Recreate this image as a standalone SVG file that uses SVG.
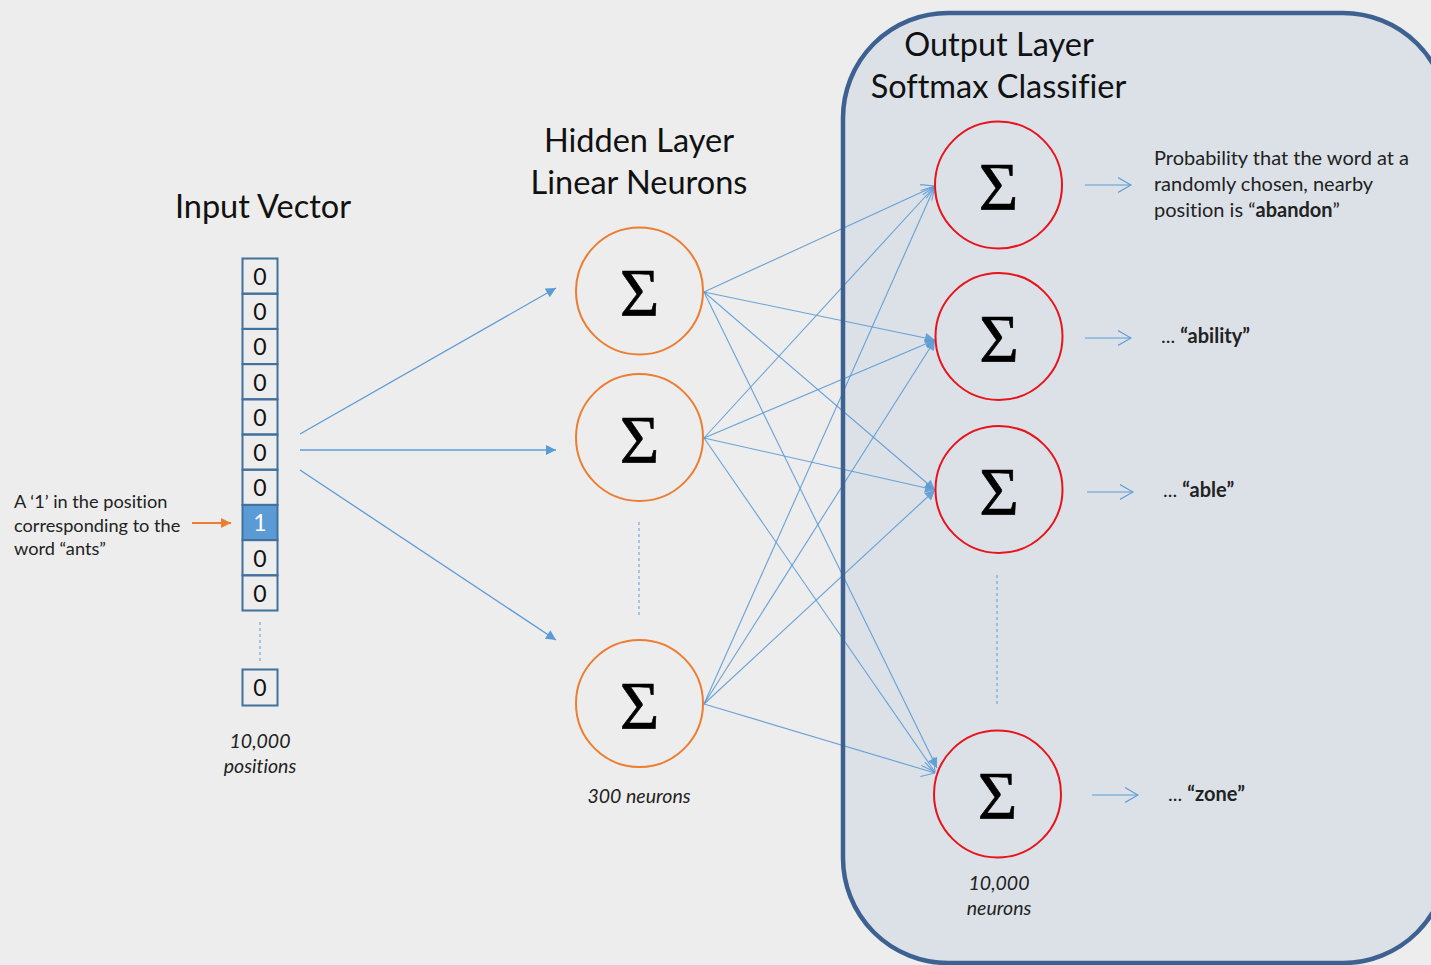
<svg xmlns="http://www.w3.org/2000/svg" width="1431" height="965" viewBox="0 0 1431 965">
  <style>
    text { font-variant-ligatures: none; }
    .heading { font-family: Lato, "Open Sans", sans-serif; font-size: 32.5px; fill: #111; text-anchor: middle; }
    .note { font-family: Lato, "Open Sans", sans-serif; font-size: 18.2px; fill: #222; }
    .label { font-family: Lato, "Open Sans", sans-serif; font-size: 20px; fill: #222; }
    .count { font-family: Lato, "Open Sans", sans-serif; font-size: 19.5px; font-style: italic; fill: #222; text-anchor: middle; }
    .cell { fill: none; stroke: #41719C; stroke-width: 2; }
    .cell-on { fill: #5B9BD5; stroke: #41719C; stroke-width: 2; }
    .digit { font-family: Lato, "Open Sans", sans-serif; font-size: 23px; fill: #111; text-anchor: middle; }
    .digit-on { fill: #fff; }
    .hidden { fill: none; stroke: #ED7D31; stroke-width: 2; }
    .output { fill: none; stroke: #E8131B; stroke-width: 2; }
    .sigma { font-family: "Liberation Serif", "DejaVu Serif", serif; font-size: 68px; fill: #000; text-anchor: middle; stroke: #000; stroke-width: 0.6; }
    .link { stroke: #5B9BD5; stroke-width: 1.1; fill: none; opacity: 0.9; }
    .feed { stroke: #5B9BD5; stroke-width: 1.3; fill: none; }
    .out-arrow { stroke: #5B9BD5; stroke-width: 1.1; fill: none; }
    .ellipsis { stroke: #5B9BD5; stroke-width: 1; stroke-dasharray: 3 3; fill: none; }
  </style>
  <defs>
    <marker id="tipFilled" viewBox="0 0 10 10" refX="10" refY="5" markerWidth="11" markerHeight="10" markerUnits="userSpaceOnUse" orient="auto">
      <path d="M0,0 L10,5 L0,10 z" fill="#5B9BD5"/>
    </marker>
    <marker id="tipOpen" viewBox="0 0 14 16" refX="13.5" refY="8" markerWidth="14" markerHeight="16" markerUnits="userSpaceOnUse" orient="auto">
      <path d="M0.5,0.5 L13.5,8 L0.5,15.5" fill="none" stroke="#5B9BD5" stroke-width="1.1"/>
    </marker>
    <marker id="tipOrange" viewBox="0 0 10 10" refX="10" refY="5" markerWidth="11" markerHeight="10" markerUnits="userSpaceOnUse" orient="auto">
      <path d="M0,0 L10,5 L0,10 z" fill="#ED7D31"/>
    </marker>
  </defs>

  <!-- page background -->
  <rect x="0" y="0" width="1431" height="965" fill="#EDEDED"/>

  <!-- output layer panel fill (border is drawn above the connectors) -->
  <g id="output-panel">
    <rect x="843" y="13" width="605" height="950" rx="105" ry="105" fill="#DCE1E8"/>
  </g>

  <!-- connectors -->
  <g id="connectors">
    <!-- input vector to hidden layer -->
    <line class="feed" x1="300" y1="434" x2="556" y2="288" marker-end="url(#tipFilled)"/>
    <line class="feed" x1="300" y1="450" x2="556" y2="450" marker-end="url(#tipFilled)"/>
    <line class="feed" x1="300" y1="470" x2="556" y2="640" marker-end="url(#tipFilled)"/>

    <!-- hidden neuron 1 -->
    <line class="link" x1="704" y1="292" x2="935" y2="186" marker-end="url(#tipOpen)"/>
    <line class="link" x1="704" y1="292" x2="935" y2="340" marker-end="url(#tipFilled)"/>
    <line class="link" x1="704" y1="292" x2="935" y2="490" marker-end="url(#tipFilled)"/>
    <line class="link" x1="704" y1="292" x2="937" y2="768" marker-end="url(#tipFilled)" stroke-width="1.5"/>
    <!-- hidden neuron 2 -->
    <line class="link" x1="704" y1="438" x2="935" y2="186" marker-end="url(#tipOpen)"/>
    <line class="link" x1="704" y1="438" x2="935" y2="340" marker-end="url(#tipFilled)"/>
    <line class="link" x1="704" y1="438" x2="935" y2="490" marker-end="url(#tipFilled)"/>
    <line class="link" x1="704" y1="438" x2="935" y2="772" marker-end="url(#tipOpen)"/>
    <!-- hidden neuron 3 -->
    <line class="link" x1="704" y1="704" x2="935" y2="186" marker-end="url(#tipOpen)"/>
    <line class="link" x1="704" y1="704" x2="935" y2="340" marker-end="url(#tipFilled)"/>
    <line class="link" x1="704" y1="704" x2="935" y2="490" marker-end="url(#tipFilled)"/>
    <line class="link" x1="704" y1="704" x2="935" y2="773" marker-end="url(#tipOpen)"/>

    <!-- softmax outputs -->
    <line class="out-arrow" x1="1085" y1="185" x2="1131" y2="185" marker-end="url(#tipOpen)"/>
    <line class="out-arrow" x1="1085" y1="338" x2="1131" y2="338" marker-end="url(#tipOpen)"/>
    <line class="out-arrow" x1="1087" y1="492" x2="1133" y2="492" marker-end="url(#tipOpen)"/>
    <line class="out-arrow" x1="1092" y1="795" x2="1138" y2="795" marker-end="url(#tipOpen)"/>

    <!-- pointer to the active input position -->
    <line x1="192" y1="523" x2="231" y2="523" stroke="#ED7D31" stroke-width="2" marker-end="url(#tipOrange)"/>

    <!-- "more units" ellipses -->
    <line class="ellipsis" x1="260" y1="622" x2="260" y2="663"/>
    <line class="ellipsis" x1="639" y1="522" x2="639" y2="617"/>
    <line class="ellipsis" x1="997" y1="575" x2="997" y2="705"/>
  </g>

  <!-- output layer panel border -->
  <rect x="843" y="13" width="605" height="950" rx="105" ry="105" fill="none" stroke="#3D6190" stroke-width="4.5"/>

  <!-- input vector -->
  <g id="input-vector">
    <text class="heading" x="263" y="218">Input Vector</text>
    <rect class="cell" x="242.5" y="258.5" width="35" height="35.2"/>
    <rect class="cell" x="242.5" y="293.7" width="35" height="35.2"/>
    <rect class="cell" x="242.5" y="328.9" width="35" height="35.2"/>
    <rect class="cell" x="242.5" y="364.1" width="35" height="35.2"/>
    <rect class="cell" x="242.5" y="399.3" width="35" height="35.2"/>
    <rect class="cell" x="242.5" y="434.5" width="35" height="35.2"/>
    <rect class="cell" x="242.5" y="469.7" width="35" height="35.2"/>
    <rect class="cell-on" x="242.5" y="504.9" width="35" height="35.2"/>
    <rect class="cell" x="242.5" y="540.1" width="35" height="35.2"/>
    <rect class="cell" x="242.5" y="575.3" width="35" height="35.2"/>
    <rect class="cell" x="242.5" y="669.5" width="35" height="36"/>
    <text class="digit" x="260" y="285">0</text>
    <text class="digit" x="260" y="320">0</text>
    <text class="digit" x="260" y="355">0</text>
    <text class="digit" x="260" y="391">0</text>
    <text class="digit" x="260" y="426">0</text>
    <text class="digit" x="260" y="461">0</text>
    <text class="digit" x="260" y="496">0</text>
    <text class="digit digit-on" x="260" y="531">1</text>
    <text class="digit" x="260" y="567">0</text>
    <text class="digit" x="260" y="602">0</text>
    <text class="digit" x="260" y="696">0</text>
    <text class="count" x="260" y="748">10,000</text>
    <text class="count" x="260" y="773">positions</text>
  </g>

  <g id="input-note">
    <text class="note" x="14" y="508">A ‘1’ in the position</text>
    <text class="note" x="14" y="532">corresponding to the</text>
    <text class="note" x="14" y="555">word “ants”</text>
  </g>

  <!-- hidden layer -->
  <g id="hidden-title">
    <text class="heading" x="639" y="152">Hidden Layer</text>
    <text class="heading" x="639" y="194">Linear Neurons</text>
  </g>
  <g id="hidden-1">
    <circle class="hidden" cx="639.5" cy="291" r="63.5"/>
    <text class="sigma" x="639.5" y="315">Σ</text>
  </g>
  <g id="hidden-2">
    <circle class="hidden" cx="639.5" cy="437.5" r="63.5"/>
    <text class="sigma" x="639.5" y="461.5">Σ</text>
  </g>
  <g id="hidden-3">
    <circle class="hidden" cx="639.5" cy="703.5" r="63.5"/>
    <text class="sigma" x="639.5" y="727.5">Σ</text>
  </g>
  <text class="count" x="639" y="803">300 neurons</text>

  <!-- output layer -->
  <g id="output-title">
    <text class="heading" x="999" y="56">Output Layer</text>
    <text class="heading" x="998.5" y="98">Softmax Classifier</text>
  </g>
  <g id="output-1">
    <circle class="output" cx="998.5" cy="185" r="63.5"/>
    <text class="sigma" x="998.5" y="209">Σ</text>
  </g>
  <g id="output-2">
    <circle class="output" cx="999" cy="336.5" r="63.5"/>
    <text class="sigma" x="999" y="360.5">Σ</text>
  </g>
  <g id="output-3">
    <circle class="output" cx="999" cy="489.5" r="63.5"/>
    <text class="sigma" x="999" y="513.5">Σ</text>
  </g>
  <g id="output-4">
    <circle class="output" cx="997.5" cy="794" r="63.5"/>
    <text class="sigma" x="997.5" y="818">Σ</text>
  </g>
  <text class="count" x="999" y="890">10,000</text>
  <text class="count" x="999" y="915">neurons</text>

  <!-- output labels -->
  <g id="output-labels">
    <text class="label" x="1154" y="165">Probability that the word at a</text>
    <text class="label" x="1154" y="191">randomly chosen, nearby</text>
    <text class="label" x="1154" y="217">position is “<tspan font-weight="bold">abandon</tspan>”</text>
    <text class="label" x="1161" y="343">... <tspan font-weight="bold">“ability”</tspan></text>
    <text class="label" x="1163" y="497">... <tspan font-weight="bold">“able”</tspan></text>
    <text class="label" x="1168" y="801">... <tspan font-weight="bold">“zone”</tspan></text>
  </g>
</svg>
